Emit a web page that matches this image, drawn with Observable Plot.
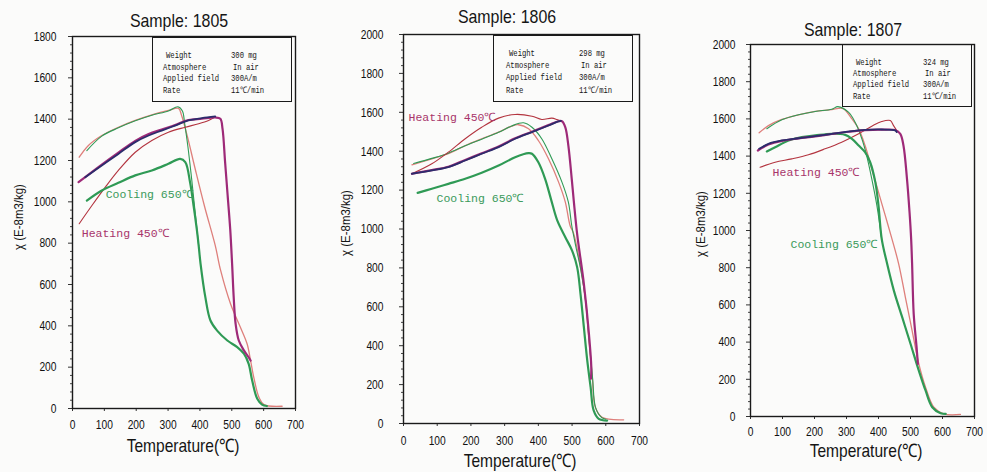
<!DOCTYPE html>
<html><head><meta charset="utf-8">
<script src="https://cdn.jsdelivr.net/npm/d3@7"></script>
<script src="https://cdn.jsdelivr.net/npm/@observablehq/plot@0.6"></script>
<style>
html,body{margin:0;padding:0;background:#fbfbfa;}
#wrap{position:relative;width:987px;height:472px;overflow:hidden;background:#fbfbfa;}
#wrap svg{position:absolute;left:0;top:0;}
.t{position:absolute;white-space:nowrap;color:#151515;font-family:"Liberation Sans",sans-serif;line-height:0.85;}
.title{font-size:18.5px;transform:translate(-50%,-50%) scaleX(0.86);}
.xt{font-size:18.5px;transform:translate(-50%,-50%) scaleX(0.84);}
.yt{font-size:13px;transform:translate(-50%,-50%) rotate(-90deg) scaleX(0.88);}
.lg{position:absolute;border:1.3px solid #1a1a1a;box-sizing:border-box;}
.lt{position:absolute;white-space:nowrap;font-family:"Liberation Mono","DejaVu Sans Mono",monospace;font-size:9px;color:#151515;transform:translateY(-50%) scaleX(0.8);transform-origin:left center;line-height:1;}
</style></head>
<body><div id="wrap"></div>
<script>
// ---------- data (temperature °C, susceptibility E-8 m3/kg) ----------
const samples = ["1805", "1806", "1807"];
const yMax = [1800, 2000, 2000];
const xTicks = [0, 100, 200, 300, 400, 500, 600, 700];
const legendKeys = ["Weight", "Atmosphere", "Applied field", "Rate"];
const legend1805 = ["300 mg", "In air", "300A/m", "11℃/min"];
const legend1806 = ["298 mg", "In air", "300A/m", "11℃/min"];
const legend1807 = ["324 mg", "In air", "300A/m", "11℃/min"];

// Sample 1805
const salmon1805 = [[21,1216],[50,1273],[92,1321],[144,1361],[197,1394],[249,1421],[301,1442],[333,1452],[342,1420],[360,1320],[385,1160],[415,975],[448,789],[465,668],[496,507],[527,393],[548,313],[559,232],[569,151],[585,55],[601,19],[658,11]];
const thinGreen1805 = [[45,1248],[92,1318],[144,1358],[197,1392],[249,1419],[301,1440],[331,1460],[345,1440],[352,1380],[362,1270],[374,1111],[385,950],[396,789]];
const green1805 = [[45,1006],[92,1055],[144,1092],[197,1128],[249,1152],[301,1184],[338,1208],[354,1192],[369,1095],[380,982],[390,869],[396,789],[402,700],[417,539],[433,426],[454,377],[486,329],[517,297],[538,265],[553,216],[564,135],[580,47],[595,19],[610,12]];
const crimson1805 = [[21,894],[61,982],[103,1071],[144,1152],[197,1240],[249,1297],[301,1337],[354,1361],[396,1378],[427,1394],[448,1410]];
const magenta1805 = [[19,1095],[92,1180],[144,1238],[197,1295],[239,1328],[280,1350],[322,1372],[364,1396],[406,1402],[448,1408],[464,1402],[471,1353],[479,1192],[487,1031],[495,869],[501,700],[506,539],[512,410],[522,329],[538,281],[553,248],[559,232]];
const navy1805 = [[40,1119],[92,1176],[144,1232],[197,1289],[239,1321],[280,1345],[322,1369],[364,1394],[406,1405],[448,1413]];

// Sample 1806
const salmon1806 = [[25,1330],[84,1361],[133,1387],[183,1429],[232,1464],[282,1498],[321,1529],[341,1536],[371,1515],[400,1455],[430,1361],[460,1241],[480,1138],[494,1018],[505,975],[525,804],[540,632],[550,427],[560,238],[569,84],[589,32],[653,19]];
const thinGreen1806 = [[30,1337],[84,1363],[133,1390],[183,1428],[232,1462],[282,1497],[321,1530],[356,1546],[381,1523],[410,1464],[440,1361],[470,1241],[489,1138],[499,1018],[510,920],[527,780],[541,620],[551,420],[561,230],[570,80],[588,30],[600,22]];
const green1806 = [[42,1186],[84,1207],[133,1232],[183,1258],[232,1289],[282,1326],[331,1369],[371,1390],[381,1387],[400,1343],[420,1258],[438,1150],[456,1044],[480,958],[500,889],[515,804],[525,667],[535,495],[545,324],[555,187],[564,67],[579,24],[604,15]];
const crimson1806 = [[25,1284],[84,1335],[133,1395],[183,1464],[232,1523],[282,1570],[331,1589],[381,1580],[410,1563],[440,1570],[455,1563],[465,1556]];
const magenta1806 = [[25,1284],[84,1303],[133,1320],[183,1355],[232,1389],[282,1424],[331,1466],[381,1500],[430,1534],[460,1554],[470,1554],[480,1523],[489,1429],[499,1258],[505,1146],[515,975],[535,718],[550,461],[557,289],[556,230]];
const navy1806 = [[25,1284],[84,1301],[133,1318],[183,1352],[232,1387],[282,1421],[331,1464],[381,1498],[430,1532],[460,1553],[467,1556]];

// Sample 1807
const salmon1807 = [[27,1525],[56,1564],[98,1597],[150,1622],[202,1640],[254,1650],[275,1657],[291,1654],[317,1600],[338,1547],[358,1457],[379,1332],[400,1206],[421,1081],[442,955],[463,821],[484,641],[505,462],[526,283],[547,158],[573,50],[604,14],[656,11]];
const thinGreen1807 = [[51,1547],[98,1595],[150,1622],[202,1640],[254,1652],[273,1666],[306,1636],[327,1582],[348,1493],[363,1403],[379,1278],[395,1134],[410,955]];
const green1807 = [[51,1425],[77,1448],[119,1484],[160,1502],[202,1511],[254,1520],[296,1514],[317,1493],[338,1457],[358,1421],[374,1367],[390,1260],[400,1134],[410,955],[427,821],[448,677],[474,534],[500,391],[526,247],[547,140],[568,50],[594,18],[610,14]];
const crimson1807 = [[30,1340],[77,1367],[129,1385],[181,1407],[233,1439],[285,1475],[338,1520],[379,1561],[410,1586],[437,1591],[447,1564],[457,1538]];
const magenta1807 = [[23,1430],[56,1462],[98,1482],[150,1495],[202,1506],[254,1519],[306,1531],[358,1540],[410,1542],[452,1540],[468,1520],[478,1457],[489,1278],[497,1098],[502,955],[505,821],[510,552],[519,373],[523,283]];
const navy1807 = [[27,1439],[56,1466],[98,1484],[150,1496],[202,1507],[254,1520],[306,1532],[358,1541],[410,1543],[452,1538],[457,1529]];

// curve labels [T, chi]
const coolLabel = [[104,1036],[98,1158],[125,925]];
const heatLabel = [[29,847],[15,1575],[69,1313]];

// ---------- layout ----------
const W = 987, H = 472;
const layouts = [
  {mL:72, mR:W-295, mT:36, mB:H-408, yPad:12, xPad:8,
   title:[179,21], xt:[183,446], yt:[19,217], box:[152,37,140,65], col:[10,78], row:[18,29.5,41,52.5]},
  {mL:403, mR:W-639, mT:34, mB:H-423, yPad:16, xPad:9,
   title:[507,17], xt:[520,461], yt:[346,223], box:[493,35,140,67], col:[12,85], row:[18,30,42,55]},
  {mL:750, mR:W-974, mT:44, mB:H-416, yPad:11, xPad:7,
   title:[853,30], xt:[866,451], yt:[701,224], box:[842,44,130,63], col:[10,80], row:[18,29,40,52]}
];
const series = [
  {salmon:salmon1805, thinGreen:thinGreen1805, green:green1805, crimson:crimson1805, magenta:magenta1805, navy:navy1805, legend:legend1805},
  {salmon:salmon1806, thinGreen:thinGreen1806, green:green1806, crimson:crimson1806, magenta:magenta1806, navy:navy1806, legend:legend1806},
  {salmon:salmon1807, thinGreen:thinGreen1807, green:green1807, crimson:crimson1807, magenta:magenta1807, navy:navy1807, legend:legend1807}
];
const C = {salmon:"#de7f7b", green:"#2f9a55", crimson:"#b3343f", magenta:"#9e2a78", navy:"#2c2c6c", heat:"#a8356a", cool:"#3a9a5a"};
const wrap = document.getElementById("wrap");

function line(data, stroke, w) {
  return Plot.line(data, {x: d => d[0], y: d => d[1], stroke, strokeWidth: w, curve: "catmull-rom", strokeLinejoin: "round", strokeLinecap: "round"});
}

samples.forEach((s, i) => {
  const L = layouts[i], S = series[i], ym = yMax[i];
  const major = d3.range(0, ym + 1, 200);
  const minor = d3.range(0, ym + 1, 40).filter(v => v % 200 !== 0);
  const svg = Plot.plot({
    width: W, height: H,
    marginLeft: L.mL, marginRight: L.mR, marginTop: L.mT, marginBottom: L.mB,
    style: {background: "transparent", fontFamily: '"Liberation Sans",sans-serif', fontSize: "13.5px", color: "#111"},
    x: {domain: [0, 700]},
    y: {domain: [0, ym]},
    marks: [
      Plot.axisY(minor, {tickSize: 2, tickFormat: () => "", stroke: "#444"}),
      Plot.axisY(major, {tickSize: 4, tickPadding: L.yPad, tickFormat: d3.format("d"), label: null, stroke: "#333"}),
      Plot.axisX(xTicks, {tickSize: 3, tickPadding: L.xPad, tickFormat: d3.format("d"), label: null, stroke: "#333"}),
      line(S.salmon, C.salmon, 1.3),
      line(S.thinGreen, C.green, 1.1),
      line(S.crimson, C.crimson, 1.1),
      line(S.green, C.green, 2.2),
      line(S.magenta, C.magenta, 2.2),
      line(S.navy, C.navy, 1.8),
      Plot.text([coolLabel[i]], {x: d => d[0], y: d => d[1], text: () => "Cooling 650℃", textAnchor: "start", fill: C.cool, fontSize: 11.5, fontFamily: '"Liberation Mono",monospace'}),
      Plot.text([heatLabel[i]], {x: d => d[0], y: d => d[1], text: () => "Heating 450℃", textAnchor: "start", fill: C.heat, fontSize: 11.5, fontFamily: '"Liberation Mono",monospace'}),
      Plot.frame({stroke: "#1a1a1a", strokeWidth: 1.4})
    ]
  });
  wrap.appendChild(svg);
  // condense the tick labels like the original narrow gothic face (horizontal scale about each anchor)
  svg.querySelectorAll('g[aria-label$="tick label"] text').forEach(t => {
    const tr = t.getAttribute("transform") || "";
    t.setAttribute("transform", tr + " scale(0.76,1)");
  });

  const add = (cls, txt, x, y) => {
    const d = document.createElement("div");
    d.className = "t " + cls; d.textContent = txt;
    d.style.left = x + "px"; d.style.top = y + "px";
    wrap.appendChild(d);
  };
  add("title", "Sample: " + s, L.title[0], L.title[1]);
  add("xt", "Temperature(℃)", L.xt[0], L.xt[1]);
  add("yt", "χ (E-8m3/kg)", L.yt[0], L.yt[1]);

  const box = document.createElement("div");
  box.className = "lg";
  box.style.left = L.box[0] + "px"; box.style.top = L.box[1] + "px";
  box.style.width = L.box[2] + "px"; box.style.height = L.box[3] + "px";
  legendKeys.forEach((k, j) => {
    const a = document.createElement("div");
    a.className = "lt"; a.textContent = k;
    a.style.left = (L.col[0] + (j === 0 ? 3 : 0)) + "px"; a.style.top = L.row[j] + "px";
    box.appendChild(a);
    const b = document.createElement("div");
    b.className = "lt"; b.textContent = S.legend[j];
    b.style.left = (L.col[1] + (j === 1 ? 2 : 0)) + "px"; b.style.top = L.row[j] + "px";
    box.appendChild(b);
  });
  wrap.appendChild(box);
});
</script></body></html>
